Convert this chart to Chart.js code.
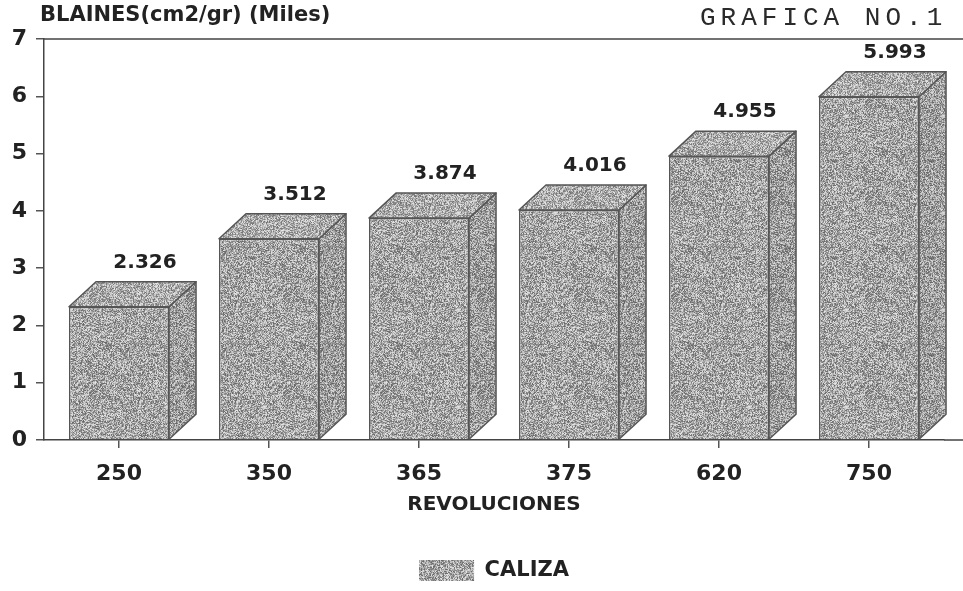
<!DOCTYPE html>
<html>
<head>
<meta charset="utf-8">
<title>GRAFICA NO.1</title>
<script src="https://cdn.jsdelivr.net/npm/chart.js@4.4.1/dist/chart.umd.min.js"></script>
<style>
  html, body { margin: 0; padding: 0; background: #ffffff; }
  canvas { display: block; }
</style>
</head>
<body>
<canvas id="c" width="963" height="591"></canvas>
<script>
// Fineness (Blaine, thousands of cm2/gr) against mill revolutions
const revoluciones = ['250', '350', '365', '375', '620', '750'];
const blaine = [2.326, 3.512, 3.874, 4.016, 4.955, 5.993];
const yTicks = [0, 1, 2, 3, 4, 5, 6, 7];
const seriesName = 'CALIZA';
const yTitle = 'BLAINES(cm2/gr) (Miles)';
const xTitle = 'REVOLUCIONES';
const sheetTag = 'GRAFICA NO.1';

const INK = '#222222';
const EDGE = '#555555';
const FONT = 'DejaVu Sans';

// Grainy grey fill for the boxes (fixed-seed speckle texture)
function makeGrain(size) {
  const c = document.createElement('canvas');
  c.width = size; c.height = size;
  const g = c.getContext('2d');
  const img = g.createImageData(size, size);
  let s = 20240611;
  for (let i = 0; i < size * size; i++) {
    s = (Math.imul(s, 1103515245) + 12345) >>> 0;
    const r = (s >>> 16) & 255;
    const v = Math.max(60, Math.min(250, Math.round(166 + (r - 128) * 0.5)));
    img.data[i * 4] = v;
    img.data[i * 4 + 1] = v;
    img.data[i * 4 + 2] = v;
    img.data[i * 4 + 3] = 255;
  }
  g.putImageData(img, 0, 0);
  return g.createPattern(c, 'repeat');
}

const ctx = document.getElementById('c').getContext('2d');
const grain = makeGrain(97);

// Top and side faces of each bar, plus the value printed above it
const boxFaces = {
  id: 'boxFaces',
  afterDatasetsDraw(chart) {
    const g = chart.ctx;
    const meta = chart.getDatasetMeta(0);
    const dx = 27, dy = 25;
    meta.data.forEach((bar, i) => {
      const { x, y, base, width } = bar.getProps(['x', 'y', 'base', 'width'], true);
      const l = x - width / 2, r = x + width / 2;
      g.save();
      g.lineWidth = 1.5;
      g.strokeStyle = EDGE;
      g.lineJoin = 'round';
      // side face
      g.beginPath();
      g.moveTo(r, y);
      g.lineTo(r + dx, y - dy);
      g.lineTo(r + dx, base - dy);
      g.lineTo(r, base);
      g.closePath();
      g.fillStyle = grain; g.fill();
      g.fillStyle = 'rgba(0,0,0,0.04)'; g.fill();
      g.stroke();
      // top face
      g.beginPath();
      g.moveTo(l, y);
      g.lineTo(l + dx, y - dy);
      g.lineTo(r + dx, y - dy);
      g.lineTo(r, y);
      g.closePath();
      g.fillStyle = grain; g.fill();
      g.fillStyle = 'rgba(255,255,255,0.08)'; g.fill();
      g.stroke();
      // value
      g.fillStyle = INK;
      g.font = 'bold 20px "' + FONT + '"';
      g.textAlign = 'center';
      g.textBaseline = 'middle';
      g.fillText(blaine[i].toFixed(3), x + 26, y - dy - 19);
      g.restore();
    });
  }
};

// Frame lines running to the page edge, the axis caption and the sheet tag
const frameText = {
  id: 'frameText',
  afterLayout(chart) {
    const lg = chart.legend, ca = chart.chartArea;
    if (lg && ca) {
      const shift = (ca.left + ca.right) / 2 - (lg.left + lg.right) / 2;
      lg.left += shift; lg.right += shift;
    }
  },
  afterDraw(chart) {
    const g = chart.ctx;
    const ys = chart.scales.y, ca = chart.chartArea;
    const W = chart.width;
    g.save();
    g.strokeStyle = '#444';
    g.lineWidth = 1.5;
    const yTop = ys.getPixelForValue(7);
    const yBase = ys.getPixelForValue(0);
    g.beginPath();
    g.moveTo(ca.left, yTop); g.lineTo(W, yTop);
    g.moveTo(ca.right, yBase); g.lineTo(W, yBase);
    g.stroke();
    g.fillStyle = INK;
    g.font = 'bold 21px "' + FONT + '"';
    g.textAlign = 'left';
    g.textBaseline = 'middle';
    g.fillText(yTitle, 40, 16);
    g.fillStyle = '#2a2a2a';
    g.font = '26px "Liberation Mono"';
    g.letterSpacing = '5px';
    g.fillText(sheetTag, 700, 18);
    g.restore();
  }
};

const tickFont = { family: FONT, weight: 'bold', size: 22 };

new Chart(ctx, {
  type: 'bar',
  data: {
    labels: revoluciones,
    datasets: [{
      label: seriesName,
      data: blaine,
      backgroundColor: grain,
      borderColor: EDGE,
      borderWidth: 1.5,
      barPercentage: 0.667,
      categoryPercentage: 1
    }]
  },
  options: {
    responsive: false,
    animation: false,
    devicePixelRatio: 1,
    layout: { padding: { top: 39, left: 0, right: 19, bottom: 0 } },
    scales: {
      x: {
        offset: true,
        grid: { offset: false, drawOnChartArea: false, drawTicks: true, tickLength: 8, color: '#555', lineWidth: 1.5 },
        border: { display: true, color: '#444', width: 1.5 },
        ticks: { font: tickFont, color: INK, padding: 13, maxRotation: 0 },
        title: { display: true, text: xTitle, color: INK, font: { family: FONT, weight: 'bold', size: 20 }, padding: { top: 0, bottom: 34 } },
        afterFit(s) { s.height = 111; }
      },
      y: {
        min: 0,
        max: 7,
        afterBuildTicks(s) { s.ticks = yTicks.map(v => ({ value: v })); },
        grid: { drawOnChartArea: false, drawTicks: true, tickLength: 8, color: '#555', lineWidth: 1.5 },
        border: { display: true, color: '#444', width: 1.5 },
        ticks: { font: tickFont, color: INK, padding: 9 },
        afterFit(s) { s.width = 44; }
      }
    },
    plugins: {
      legend: {
        position: 'bottom',
        labels: {
          boxWidth: 55,
          boxHeight: 21,
          padding: 9,
          color: INK,
          font: { family: FONT, weight: 'bold', size: 21 },
          generateLabels(chart) {
            return Chart.defaults.plugins.legend.labels.generateLabels(chart)
              .map(item => Object.assign(item, { lineWidth: 0 }));
          }
        }
      },
      tooltip: { enabled: false }
    }
  },
  plugins: [boxFaces, frameText]
});
</script>
</body>
</html>
